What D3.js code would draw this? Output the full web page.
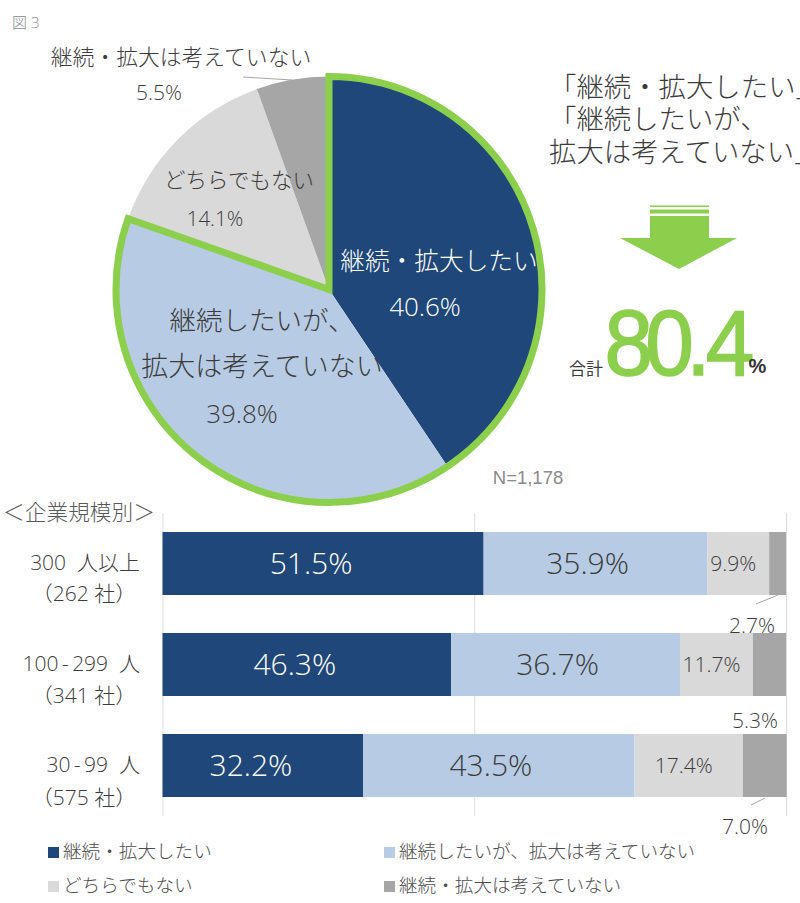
<!DOCTYPE html>
<html lang="ja">
<head>
<meta charset="utf-8">
<script src="https://cdn.jsdelivr.net/npm/d3@7"></script>
<style>
  html, body { margin: 0; padding: 0; background: #fff; }
  svg { display: block; }
  text { font-family: "Open Sans", "Noto Sans CJK JP", sans-serif; font-weight: 300; fill: #3c3c3c; white-space: pre; }
</style>
</head>
<body>
<svg></svg>
<script>
let categories = ['継続・拡大したい', '継続したいが、拡大は考えていない', 'どちらでもない', '継続・拡大は考えていない'];
let colors = ['#1f4779', '#b7cce4', '#d9d9d9', '#a6a6a6'];
let pieValues = [40.6, 39.8, 14.1, 5.5];
let groups = ['300  人以上', '100\u2009-\u2009299  人', '30\u2009-\u200999  人'];
let groupCounts = ['（262 社）', '（341 社）', '（575 社）'];
let row1 = [51.5, 35.9, 9.9, 2.7];
let row2 = [46.3, 36.7, 11.7, 5.3];
let row3 = [32.2, 43.5, 17.4, 7.0];
let axisTicks = [0, 50, 100];
let totalShare = 80.4;

let width = 800, height = 903, green = '#8ccf4d';
let svg = d3.select('svg').attr('width', width).attr('height', height);

function label(x, y, str, size, opts) {
  opts = opts || {};
  return svg.append('text')
    .attr('x', x).attr('y', y)
    .attr('text-anchor', opts.anchor || 'middle')
    .attr('font-size', size)
    .style('fill', opts.fill || '#3c3c3c')
    .style('font-weight', opts.weight || 300)
    .text(str);
}

label(12, 28, '図 3', 15, {anchor: 'start', fill: '#8c8c8c'});

// ---- pie ----
let cx = 329, cy = 289.5, radius = 213;
let pie = d3.pie().sort(null)(pieValues);
let arc = d3.arc().innerRadius(0).outerRadius(radius);
let pieG = svg.append('g').attr('transform', `translate(${cx},${cy})`);
pieG.selectAll('path.slice')
  .data(pie)
  .enter()
  .append('path')
  .attr('class', 'slice')
  .attr('d', arc)
  .attr('fill', (d, i) => colors[i]);

// green outline round the two "continue" slices together
let shareAngle = d3.scaleLinear().domain([0, 100]).range([0, 2 * Math.PI]);
pieG.append('path')
  .attr('d', arc({startAngle: 0, endAngle: shareAngle(totalShare)}))
  .attr('fill', 'none')
  .attr('stroke', green)
  .attr('stroke-width', 7)
  .attr('stroke-linejoin', 'miter');

label(181, 65, categories[3], 21.8);
label(159, 100, pieValues[3].toFixed(1) + '%', 21);
svg.append('line').attr('x1', 243).attr('y1', 77).attr('x2', 292).attr('y2', 80)
  .attr('stroke', '#a6a6a6');
label(239, 188, categories[2], 21.5);
label(215, 226, pieValues[2].toFixed(1) + '%', 20.5);
label(439, 270, categories[0], 24.7, {fill: '#fff'});
label(425, 316, pieValues[0].toFixed(1) + '%', 26, {fill: '#fff'});
label(262, 330, '継続したいが、', 26.5);
label(262, 376, '拡大は考えていない', 27);
label(242, 423, pieValues[1].toFixed(1) + '%', 26);
label(528, 484, 'N=1,178', 18.5, {fill: '#8a8a8a', weight: 400}).style('font-family', '"Liberation Sans"');

// ---- callout ----
label(549, 97, '「継続・拡大したい」', 27.4, {anchor: 'start'});
label(549, 129, '「継続したいが、', 27.4, {anchor: 'start'});
label(549, 162, '拡大は考えていない」', 27.4, {anchor: 'start'});

svg.append('rect').attr('x', 650).attr('y', 205.5).attr('width', 59).attr('height', 1.5).attr('fill', green);
svg.append('rect').attr('x', 650).attr('y', 209.5).attr('width', 59).attr('height', 4).attr('fill', green);
svg.append('path')
  .attr('d', 'M650,216H709V238H737L679,269L620,238H650Z')
  .attr('fill', green);

label(586, 375, '合計', 17, {weight: 400}).style('font-family', '"Noto Sans CJK JP"');
label(0, 0, totalShare.toFixed(1), 92, {anchor: 'start', fill: green, weight: 400})
  .attr('transform', 'translate(604.5,375) scale(0.95,1)')
  .attr('dx', '0 -8.2 -8 -5.1')
  .style('font-family', '"Liberation Sans"')
  .style('stroke', green).style('stroke-width', 1.5);
label(757.5, 373, '%', 20, {weight: 700, fill: '#333'}).style('font-family', '"Liberation Sans"');

// ---- stacked bars ----
label(79, 520, '＜企業規模別＞', 21.7, {fill: '#595959'});

let rows = [row1, row2, row3];
let x = d3.scaleLinear().domain([0, 100]).range([162.5, 786]);
let y = d3.scaleBand().domain(groups).range([532, 797]).paddingInner(38 / 63 / (1 + 38 / 63));

let gridG = svg.append('g').attr('transform', 'translate(0,816)')
  .call(d3.axisBottom(x).tickValues(axisTicks).tickSize(-303).tickFormat(''));
gridG.select('.domain').remove();
gridG.selectAll('.tick line').attr('stroke', '#dcdcdc').attr('stroke-width', 1);

let rowData = rows.map((vals, r) => {
  let sum = 0;
  return vals.map((v, i) => {
    let d = {group: groups[r], value: v, start: sum, series: i};
    sum += v;
    return d;
  });
});

let barG = svg.selectAll('g.row')
  .data(rowData)
  .enter()
  .append('g')
  .attr('class', 'row');

barG.selectAll('rect')
  .data(d => d)
  .enter()
  .append('rect')
  .attr('x', d => x(d.start))
  .attr('y', d => y(d.group))
  .attr('width', d => x(d.start + d.value) - x(d.start))
  .attr('height', y.bandwidth())
  .attr('fill', d => colors[d.series]);

// labels sit a little left of the segment centre in the original
let shift = [-12, -8, -5];
let sizes = [30, 30, 21];
barG.selectAll('text')
  .data(d => d.filter(s => s.series < 3))
  .enter()
  .append('text')
  .attr('x', d => x(d.start + d.value / 2) + shift[d.series])
  .attr('y', d => y(d.group) + y.bandwidth() / 2)
  .attr('dy', '0.36em')
  .attr('text-anchor', 'middle')
  .attr('font-size', d => sizes[d.series])
  .style('fill', d => d.series === 0 ? '#fff' : '#3c3c3c')
  .text(d => d.value.toFixed(1) + '%');

// smallest segment is labelled outside the bar
let outsideX = [752, 755, 745];
let outsideY = [633, 728, 834];
rows.forEach((vals, r) => {
  label(outsideX[r], outsideY[r], vals[3].toFixed(1) + '%', 21);
});
svg.append('line').attr('x1', 756).attr('y1', 604).attr('x2', 778).attr('y2', 595).attr('stroke', '#a6a6a6');
svg.append('line').attr('x1', 751).attr('y1', 805).attr('x2', 765).attr('y2', 798).attr('stroke', '#a6a6a6');

groups.forEach((g, r) => {
  let mid = y(g) + y.bandwidth() / 2;
  label(140, mid + 6, g, 21, {anchor: 'end'});
  label(84, mid + 37 + r, groupCounts[r], 21);
});

// ---- legend ----
let legendX = [48, 384], legendY = [847, 881];
categories.forEach((c, i) => {
  let lx = legendX[i % 2], ly = legendY[Math.floor(i / 2)];
  svg.append('rect').attr('x', lx).attr('y', ly).attr('width', 11).attr('height', 11).attr('fill', colors[i]);
  label(lx + 15, ly + 11, c, 18.6, {anchor: 'start', fill: '#4d4d4d'});
});
</script>
</body>
</html>
